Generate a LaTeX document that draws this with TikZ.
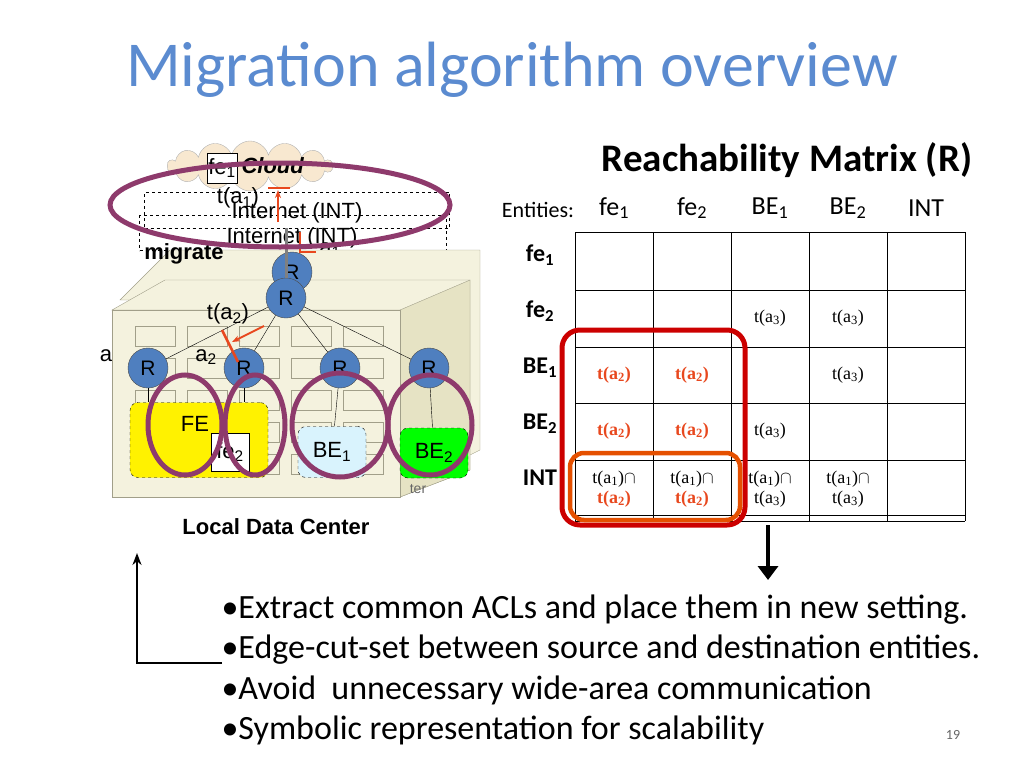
\documentclass[tikz,border=0pt]{standalone}
\usepackage{fontspec}
\setmainfont{Carlito}
\newfontfamily\arialf{Liberation Sans}
\newfontfamily\timesf{Liberation Serif}
\usetikzlibrary{shapes.symbols,arrows.meta}
\definecolor{titleblue}{HTML}{5B8BD0}
\definecolor{rblue}{HTML}{4F7FBF}
\definecolor{ring}{HTML}{8E3A6C}
\definecolor{aclred}{HTML}{E8481E}
\definecolor{wall}{HTML}{F4F2DE}
\definecolor{wallside}{HTML}{E6E3C4}
\newcommand{\sub}[1]{\textsubscript{#1}}
\begin{document}
\begin{tikzpicture}[x=1pt,y=-1pt,
    router/.style={circle,fill=rblue,draw=black!70,minimum size=40pt,inner sep=0pt,font=\arialf\fontsize{21}{21}\selectfont},
    group/.style={draw,dashed,rounded corners=8pt},
    ring/.style={draw=ring,line width=5pt},
    lbl/.style={font=\arialf\fontsize{22}{22}\selectfont},
    cell/.style={font=\timesf\fontsize{18}{20}\selectfont,align=center},
    red cell/.style={cell,text=aclred,font=\timesf\bfseries\fontsize{18}{20}\selectfont},
    head/.style={font=\fontsize{26}{26}\selectfont},
    bullet/.style={anchor=west,font=\fontsize{34}{34}\selectfont}]
\useasboundingbox (0,0) rectangle (1024,768);

% title
\node[text=titleblue,font=\fontsize{64}{64}\selectfont] (title) at (512,70) {Migration algorithm overview};

% cloud and internet
\node[cloud,cloud puffs=14,aspect=4.5,fill=wallside!70!orange!40,draw=black!30,minimum width=165pt,minimum height=50pt] (cloud) at (250,166) {};
\node[draw,fill=white,minimum size=30pt,inner sep=1pt,lbl] (fe1) at (222,168) {fe\sub{1}};
\node[font=\arialf\bfseries\itshape\fontsize{22}{22}\selectfont,anchor=west] (cloudlbl) at (238,166) {Cloud};
\node[group,rounded corners=0pt,minimum width=305pt,minimum height=36pt] (int1) at (297,210) {};
\node[group,rounded corners=0pt,minimum width=307pt,minimum height=35pt] (int2) at (293,233) {};
\node[lbl] (intlbl1) at (297,213) {Internet (INT)};
\node[lbl] (intlbl2) at (292,238) {Internet (INT)};
\node[lbl] (ta1) at (238,198) {t(a\sub{1})};
\node[lbl] (a1) at (330,250) {a\sub{1}};

% buildings
\draw[fill=wall,draw=wallside!70!black] (120,300) -- (170,250) -- (480,250) -- (480,450) -- (440,470) -- (440,300) -- cycle;
\draw[fill=wall,draw=wallside!70!black] (112,310) -- (165,280) -- (470,280) -- (470,470) -- (400,497) -- (400,310) -- cycle;
\draw[fill=wallside,draw=wallside!70!black] (400,310) -- (470,280) -- (470,470) -- (400,497) -- cycle;
\draw[fill=wall,draw=wallside!70!black] (112,310) rectangle (400,497);
\foreach \i in {0,...,4}
  \foreach \j in {0,...,4}
    \draw[wallside!70!black,fill=wall] (135+\i*52,326+\j*32) rectangle +(40,20);
\node[font=\arialf\fontsize{14}{14}\selectfont,text=black!60] (ter) at (418,489) {ter};
\node[font=\arialf\bfseries\fontsize{22}{22}\selectfont] (ldc) at (276,527) {Local Data Center};
\node[font=\arialf\bfseries\fontsize{22}{22}\selectfont] (migrate) at (184,254) {migrate};

% routers and entities
\node[router] (rback) at (292,272) {R};
\node[router] (rtop) at (286,298) {R};
\node[router] (r1) at (148,368) {R};
\node[router] (r2) at (244,368) {R};
\node[router] (r3) at (340,368) {R};
\node[router] (r4) at (429,368) {R};
\foreach \r in {r1,r2,r3,r4} \draw (rtop) -- (\r);
\draw[gray,line width=3pt] (rtop) -- (int1.south -| rtop);
\node[group,fill=yellow,minimum width=138pt,minimum height=75pt] (FE) at (199,440) {};
\node[lbl] (felbl) at (195,424) {FE};
\node[draw,fill=white,minimum size=38pt,inner sep=0pt,lbl] (fe2) at (230,452) {fe\sub{2}};
\node[group,fill=cyan!15,minimum width=68pt,minimum height=51pt,lbl] (BE1) at (332,452) {BE\sub{1}};
\node[group,fill=green,minimum width=68pt,minimum height=50pt,lbl] (BE2) at (434,453) {BE\sub{2}};
\draw (r1) -- (r1 |- FE.north);
\draw (r2) -- (r2 |- FE.north);
\draw (r3) -- (BE1);
\draw (r4) -- (BE2);

% ACL marks
\node[lbl] (ta2) at (228,314) {t(a\sub{2})};
\node[lbl] (a2) at (206,357) {a\sub{2}};
\node[lbl] (aleft) at (106,356) {a};
\draw[aclred,line width=2.5pt] (222,330) -- (238,362);
\draw[aclred,line width=2pt,-{Stealth[length=8pt]}] (264,326) -- (232,342);
\draw[aclred,line width=2.5pt] (268,188) -- (290,188);
\draw[aclred,line width=2pt,-{Stealth[length=8pt]}] (278,222) -- (278,190);
\draw[aclred,line width=2.5pt] (300,232) -- (300,252) -- (316,252);

% rings
\draw[ring] (280,205) ellipse (170pt and 42pt);
\draw[ring] (185,425) ellipse (37pt and 50pt);
\draw[ring] (255,425) ellipse (30pt and 50pt);
\draw[ring] (340,425) ellipse (48pt and 52pt);
\draw[ring] (430,425) ellipse (42pt and 50pt);

% reachability matrix
\node[font=\bfseries\fontsize{39}{39}\selectfont] (mtitle) at (787,160) {Reachability Matrix (R)};
\node[font=\fontsize{22}{22}\selectfont] (entities) at (538,210) {Entities:};
\foreach \n/\x in {fe\sub{1}/614,fe\sub{2}/692,BE\sub{1}/770,BE\sub{2}/848,INT/926}
  \node[head] at (\x,208) {\n};
\foreach \n/\y in {fe\sub{1}/255,fe\sub{2}/311,BE\sub{1}/368,BE\sub{2}/424,INT/478}
  \node[head,font=\bfseries\fontsize{24}{24}\selectfont] at (540,\y) {\n};
\foreach \y in {232,290,347,403,460,515,521}
  \draw (575,\y) -- (965,\y);
\foreach \x in {575,653,731,809,887,965}
  \draw (\x,232) -- (\x,521);
\node[cell] at (770,318) {t(a\sub{3})};
\node[cell] at (848,318) {t(a\sub{3})};
\node[red cell] at (614,375) {t(a\sub{2})};
\node[red cell] at (692,375) {t(a\sub{2})};
\node[cell] at (848,375) {t(a\sub{3})};
\node[red cell] at (614,431) {t(a\sub{2})};
\node[red cell] at (692,431) {t(a\sub{2})};
\node[cell] at (770,431) {t(a\sub{3})};
\foreach \x in {614,692}
  \node[cell] at (\x,489) {t(a\sub{1})$\cap$\\\textcolor{aclred}{\bfseries t(a\sub{2})}};
\foreach \x in {770,848}
  \node[cell] at (\x,489) {t(a\sub{1})$\cap$\\t(a\sub{3})};
\draw[red!80!black,line width=5pt,rounded corners=18pt] (562,330) rectangle (745,525);
\draw[orange!70!red!90!black,line width=4.5pt,rounded corners=14pt] (570,453) rectangle (740,520);
\coordinate (down0) at (768,525);
\coordinate (down1) at (768,580);
\draw[line width=4pt,-{Triangle[length=14pt,width=20pt]}] (down0) -- (down1);

% bullets
\coordinate (lstart) at (222,663);
\coordinate (lend) at (137,553);
\draw[line width=2.5pt,-{Stealth[length=12pt]}] (lstart) -- (137,663) -- (lend);
\node[bullet] (b1) at (218,610) {•Extract common ACLs and place them in new setting.};
\node[bullet] (b2) at (218,650) {•Edge-cut-set between source and destination entities.};
\node[bullet] (b3) at (218,690) {•Avoid\ \ unnecessary wide-area communication};
\node[bullet] (b4) at (218,730) {•Symbolic representation for scalability};
\node[text=black!60,font=\fontsize{14}{14}\selectfont] (page) at (953,735) {19};
\end{tikzpicture}
\end{document}
